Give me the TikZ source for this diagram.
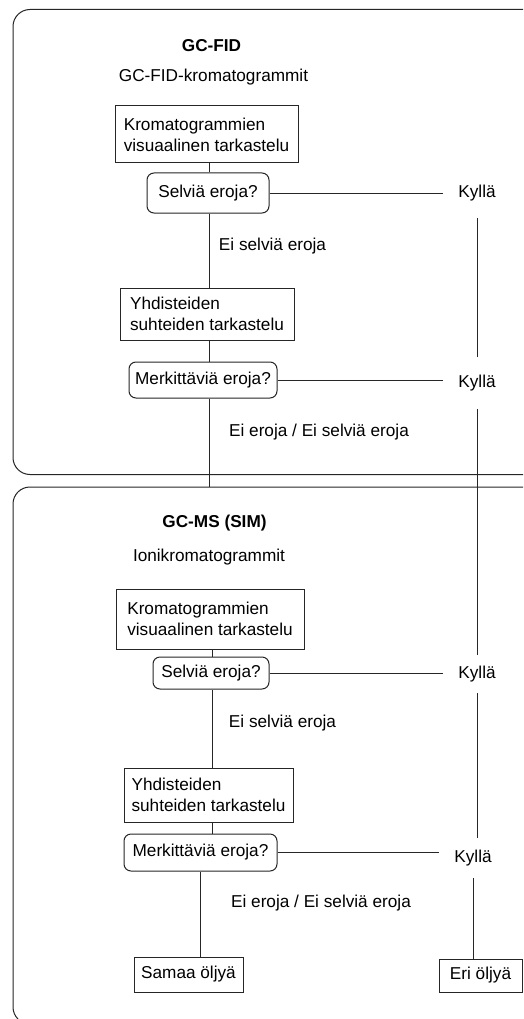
\documentclass[tikz,border=0pt]{standalone}
\usepackage{fontspec}
\setmainfont{Liberation Sans}
\begin{document}
\begin{tikzpicture}[x=1pt,y=-1pt,
  every node/.style={font=\fontsize{17.2}{21}\selectfont},
  ln/.style={line width=1pt, draw=black!85},
  proc/.style={ln, rectangle, align=left, inner sep=0pt},
  dec/.style={ln, rectangle, rounded corners=7pt, inner sep=0pt},
  yes/.style={inner xsep=15pt, inner ysep=0pt, text height=12pt, text depth=3.5pt},
  lbl/.style={inner sep=0pt, text height=12pt, text depth=3.5pt},
  hdr/.style={lbl, font=\fontsize{17.2}{21}\selectfont\bfseries},
  group/.style={ln, rectangle, rounded corners=17pt, inner sep=0pt}]
\useasboundingbox (0,0) rectangle (523,1019);
\clip (0,0) rectangle (523,1019);
\fill[white] (0,0) rectangle (523,1019);

% group frames
\node[group, minimum width=532pt, minimum height=465pt] (g1) at (279,242) {};
\node[group, minimum width=532pt, minimum height=537pt] (g2) at (279,755.5) {};

% spine coordinates
\coordinate (sp1) at (209,0);
\coordinate (sp2) at (212,0);

% ---- GC-FID section
\node[hdr] (h1) at (211.5,47) {GC-FID};
\node[lbl] (s1) at (213.5,77) {GC-FID-kromatogrammit};
\node[proc, minimum width=183pt, minimum height=57pt] (b1) at (206.5,134.5) {Kromatogrammien\\visuaalinen tarkastelu};
\node[dec, minimum width=122pt, minimum height=40pt] (d1) at (208,193) {Selviä eroja?};
\node[yes, minimum height=50pt] (k1) at (477,193) {Kyllä};
\node[lbl] (l1) at (272.5,246) {Ei selviä eroja};
\node[proc, minimum width=174pt, minimum height=52pt] (b2) at (207,314) {Yhdisteiden\\suhteiden tarkastelu};
\node[dec, minimum width=148pt, minimum height=36pt] (d2) at (203,380) {Merkittäviä eroja?};
\node[yes, minimum height=52pt] (k2) at (477,383) {Kyllä};
\node[lbl] (l2) at (319,432) {Ei eroja / Ei selviä eroja};

% ---- GC-MS section
\node[hdr] (h2) at (214.5,523) {GC-MS (SIM)};
\node[lbl] (s2) at (209,557) {Ionikromatogrammit};
\node[proc, minimum width=188pt, minimum height=60pt] (b3) at (210,619) {Kromatogrammien\\visuaalinen tarkastelu};
\node[dec, minimum width=116pt, minimum height=32pt] (d3) at (211,673) {Selviä eroja?};
\node[yes, minimum height=38pt] (k3) at (477,674) {Kyllä};
\node[lbl] (l3) at (282.5,723) {Ei selviä eroja};
\node[proc, minimum width=169pt, minimum height=54pt] (b4) at (208.5,795) {Yhdisteiden\\suhteiden tarkastelu};
\node[dec, minimum width=153pt, minimum height=37pt] (d4) at (200.5,852.5) {Merkittäviä eroja?};
\node[yes, minimum height=40pt] (k4) at (473,858) {Kyllä};
\node[lbl] (l4) at (321,903) {Ei eroja / Ei selviä eroja};
\node[proc, minimum width=109pt, minimum height=35pt, align=center] (sam) at (188.5,974.5) {Samaa öljyä};
\node[proc, minimum width=83pt, minimum height=33pt, align=center] (eri) at (480.5,975.5) {Eri öljyä};

% ---- connectors: main spine
\draw[ln] (b1.south -| sp1) -- (d1.north -| sp1);
\draw[ln] (d1.south -| sp1) -- (b2.north -| sp1);
\draw[ln] (b2.south -| sp1) -- (d2.north -| sp1);
\draw[ln] (d2.south -| sp1) -- (g2.north -| sp1);
\draw[ln] (b3.south -| sp2) -- (d3.north -| sp2);
\draw[ln] (d3.south -| sp2) -- (b4.north -| sp2);
\draw[ln] (b4.south -| sp2) -- (d4.north -| sp2);
\draw[ln] (d4.south) -- (d4.south |- sam.north);

% ---- connectors: yes branches
\draw[ln] (d1.east) -- (d1.east -| k1.west);
\draw[ln] (d2.east) -- (d2.east -| k2.west);
\draw[ln] (d3.east) -- (d3.east -| k3.west);
\draw[ln] (d4.east) -- (d4.east -| k4.west);
\draw[ln] (k1.south) -- (k2.north);
\draw[ln] (k2.south) -- (k3.north);
\draw[ln] (k3.south) -- (k3.south |- k4.north);
\draw[ln] (k4.south) -- (k4.south |- eri.north);
\end{tikzpicture}
\end{document}
